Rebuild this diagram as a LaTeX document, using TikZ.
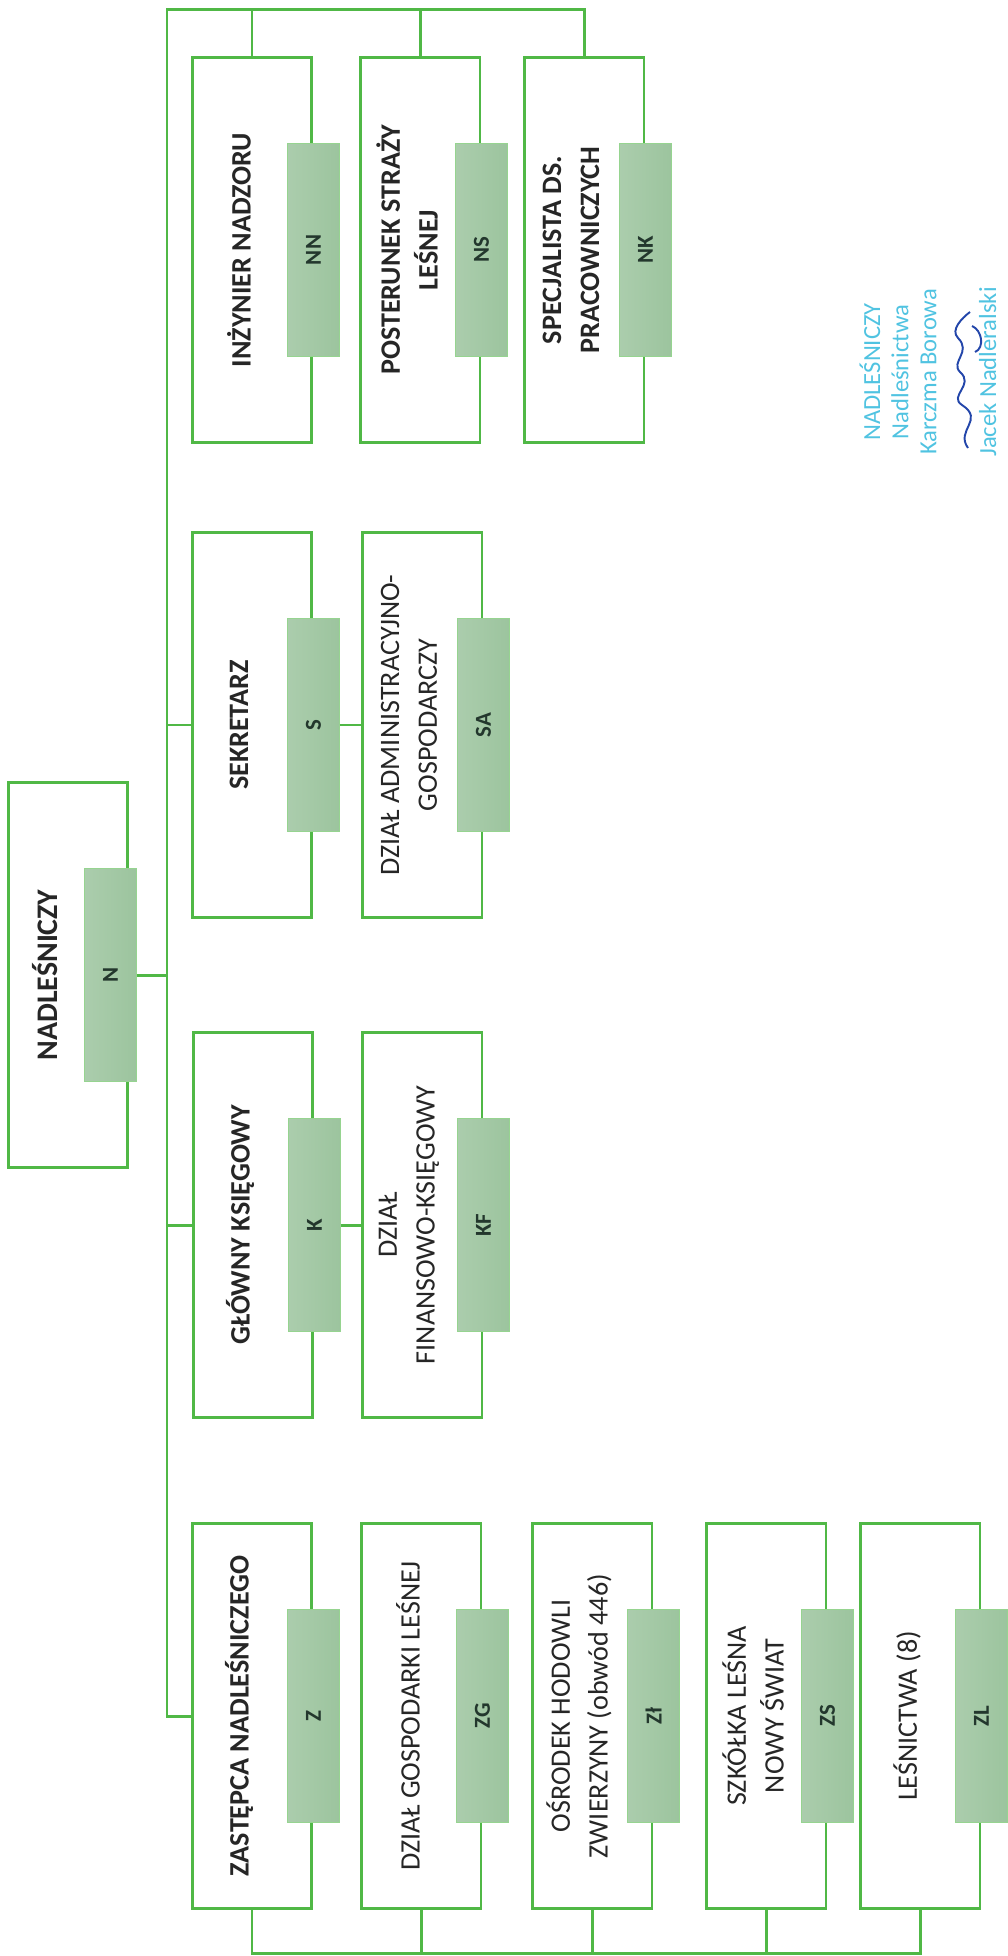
\documentclass[tikz,border=0pt]{standalone}
\usepackage{fontspec}
\setmainfont{Carlito}
\definecolor{orggreen}{RGB}{80,184,70}
\definecolor{codefill}{RGB}{156,196,158}
\definecolor{codetext}{RGB}{35,55,45}
\definecolor{stampcyan}{RGB}{80,195,225}
\definecolor{inkblue}{RGB}{35,70,170}
\tikzset{
  unit/.style={draw=orggreen,line width=1.7pt,fill=white,minimum width=2.4cm,minimum height=7.72cm,inner sep=0pt},
  code/.style={rotate=90,draw=orggreen!60,line width=0.4pt,left color=codefill!85!white,right color=codefill,minimum width=4.26cm,minimum height=1.04cm,inner sep=0pt,text=codetext,font=\fontsize{13}{15}\selectfont\bfseries},
  title/.style={rotate=90,align=center,text=black!85,font=\fontsize{16}{21.5}\selectfont\bfseries},
  dept/.style={rotate=90,align=center,text=black!85,font=\fontsize{16}{21.5}\selectfont},
  link/.style={draw=orggreen,line width=1.7pt},
  stamp/.style={rotate=90,align=center,text=stampcyan,font=\fontsize{14}{16}\selectfont}
}
\begin{document}
\begin{tikzpicture}[x=0.02cm,y=-0.02cm]
  \useasboundingbox (0,0) rectangle (1007,1956);
  \coordinate (top) at (167,10);
  \coordinate (bus) at (167,1953);
  % boxes
  \begin{scope}[every node/.style=unit]
    \node (n) at (68,975) {};
    \node (nn) at (252,250) {};
    \node (ns) at (420,250) {};
    \node (nk) at (584,250) {};
    \node (sek) at (252,725) {};
    \node (sa) at (422,725) {};
    \node (gk) at (253,1225) {};
    \node (kf) at (422,1225) {};
    \node (z) at (252,1716) {};
    \node (zg) at (421,1716) {};
    \node (zh) at (592,1716) {};
    \node (zs) at (766,1716) {};
    \node (zl) at (920,1716) {};
  \end{scope}
  % titles
  \node[title,font=\fontsize{17}{21.5}\selectfont\bfseries] (n-t) at ([xshift=-0.45cm]n.center) {NADLEŚNICZY};
  \node[title] (nn-t) at ([xshift=-0.26cm]nn.center) {INŻYNIER NADZORU};
  \node[title] (ns-t) at ([xshift=-0.26cm]ns.center) {POSTERUNEK STRAŻY\\LEŚNEJ};
  \node[title] (nk-t) at ([xshift=-0.26cm]nk.center) {SPECJALISTA DS.\\PRACOWNICZYCH};
  \node[title] (sek-t) at ([xshift=-0.26cm]sek.center) {SEKRETARZ};
  \node[dept] (sa-t) at ([xshift=-0.26cm]sa.center) {DZIAŁ ADMINISTRACYJNO-\\GOSPODARCZY};
  \node[title] (gk-t) at ([xshift=-0.26cm]gk.center) {GŁÓWNY KSIĘGOWY};
  \node[dept] (kf-t) at ([xshift=-0.26cm]kf.center) {DZIAŁ\\FINANSOWO-KSIĘGOWY};
  \node[title] (z-t) at ([xshift=-0.26cm]z.center) {ZASTĘPCA NADLEŚNICZEGO};
  \node[dept] (zg-t) at ([xshift=-0.26cm]zg.center) {DZIAŁ GOSPODARKI LEŚNEJ};
  \node[dept] (zh-t) at ([xshift=-0.26cm]zh.center) {OŚRODEK HODOWLI\\ZWIERZYNY (obwód 446)};
  \node[dept] (zs-t) at ([xshift=-0.26cm]zs.center) {SZKÓŁKA LEŚNA\\NOWY ŚWIAT};
  \node[dept] (zl-t) at ([xshift=-0.26cm]zl.center) {LEŚNICTWA (8)};
  % codes (rotated, so the right side is .south)
  \begin{scope}[every node/.style=code]
    \node (n-c) at ([xshift=-0.38cm]n.east) {N};
    \node (nn-c) at (nn.east) {NN};
    \node (ns-c) at (ns.east) {NS};
    \node (nk-c) at (nk.east) {NK};
    \node (s-c) at (sek.east) {S};
    \node (sa-c) at (sa.east) {SA};
    \node (k-c) at (gk.east) {K};
    \node (kf-c) at (kf.east) {KF};
    \node (z-c) at (z.east) {Z};
    \node (zg-c) at (zg.east) {ZG};
    \node (zh-c) at (zh.east) {Zł};
    \node (zs-c) at (zs.east) {ZS};
    \node (zl-c) at (zl.east) {ZL};
  \end{scope}
  % connectors
  \draw[link] (z.west) -| (top) -| (nk.north);
  \draw[link] (z.south) -- (z.south |- bus) -| (zl.south);
  \begin{scope}[every edge/.style=link]
    \path (nn.north) edge (nn.north |- top);
    \path (ns.north) edge (ns.north |- top);
    \path (n-c.south) edge (n-c.south -| top);
    \path (sek.west) edge (sek.west -| top);
    \path (gk.west) edge (gk.west -| top);
    \path (s-c.south) edge (sa.west);
    \path (k-c.south) edge (kf.west);
    \path (zg.south) edge (zg.south |- bus);
    \path (zh.south) edge (zh.south |- bus);
    \path (zs.south) edge (zs.south |- bus);
  \end{scope}
  % stamp
  \node[stamp] (st) at (928,372) {NADLEŚNICZY\\Nadleśnictwa\\Karczma Borowa\\[18pt]Jacek Nadleralski};
  \draw[inkblue,line width=1.1pt] (968,448) .. controls (955,430) and (985,420) .. (962,405)
    .. controls (948,396) and (975,385) .. (960,372) .. controls (950,362) and (972,352) .. (958,338)
    .. controls (950,330) and (962,318) .. (970,312);
  \draw[inkblue,line width=1.1pt] (975,352) .. controls (985,348) and (982,330) .. (972,326);
\end{tikzpicture}
\end{document}
